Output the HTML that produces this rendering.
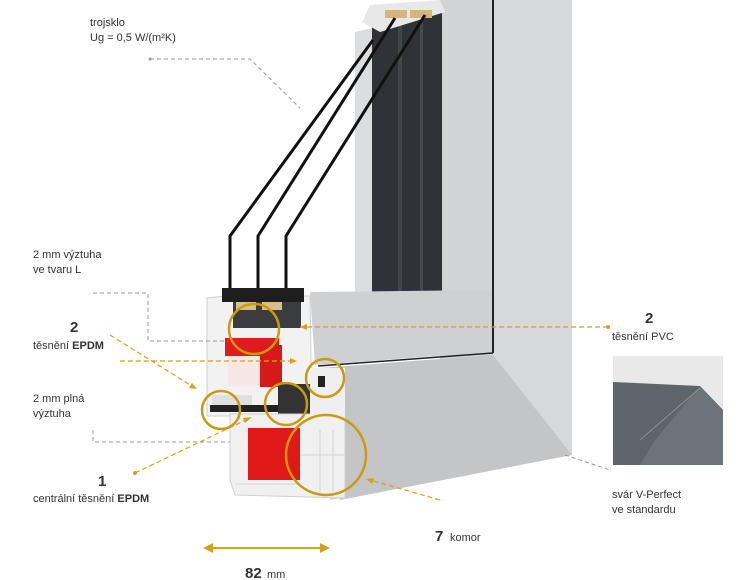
<!DOCTYPE html>
<html><head><meta charset="utf-8"><style>
html,body{margin:0;padding:0;background:#fff;width:755px;height:580px;overflow:hidden}
svg{display:block}
text{font-family:"Liberation Sans",sans-serif;font-size:11px;fill:#333}
.b{font-weight:bold}
</style></head><body>
<svg width="755" height="580" viewBox="0 0 755 580">
<!-- frame right part -->
<polygon points="440,0 572,0 572,455 330,500 320,368 440,360" fill="#d2d3d5"/>
<polygon points="493,0 572,0 572,455 493,355" fill="#d7d8da"/>
<polygon points="320,368 493,355 572,455 340,500" fill="#c4c5c7"/>
<!-- sash left strip -->
<polygon points="355,32 372,28 372,292 355,292" fill="#dcdddf"/>
<!-- dark glass area -->
<rect x="372" y="10" width="70" height="282" fill="#2f3337"/>
<rect x="398" y="10" width="4" height="282" fill="#41464a"/>
<rect x="420" y="10" width="3" height="282" fill="#454a4e"/>
<!-- sash face -->
<polygon points="310,292 493,290 493,352 315,365" fill="#cfd0d2"/>
<line x1="493" y1="0" x2="493" y2="353" stroke="#222" stroke-width="2"/>
<line x1="318" y1="366" x2="493" y2="353" stroke="#222" stroke-width="1.5"/>
<!-- top profile bits -->
<polygon points="362,22 370,5 440,0 445,12 380,32" fill="#e8e8e8"/>
<rect x="385" y="10" width="22" height="8" fill="#d6b676"/>
<rect x="410" y="10" width="22" height="8" fill="#d6b676"/>
<!-- glass panes -->
<g fill="none" stroke="#111" stroke-width="3">
<polyline points="230,292 230,236 373,40"/>
<polyline points="258,292 258,236 395,18"/>
<polyline points="286,292 286,236 425,15"/>
</g>
<!-- sash cross section -->
<polygon points="207,298 225,296 310,296 312,416 207,416" fill="#f2f2f2" stroke="#d0d0d0"/>
<rect x="222" y="288" width="82" height="14" fill="#1e1e1e"/>
<rect x="233" y="302" width="68" height="26" fill="#3a3c3e"/>
<rect x="236" y="302" width="20" height="8" fill="#d8bf8a"/>
<rect x="262" y="302" width="20" height="8" fill="#d8bf8a"/>
<rect x="225" y="338" width="54" height="18" fill="#e01b1b"/>
<rect x="260" y="345" width="22" height="42" fill="#d61a1a"/>
<rect x="228" y="356" width="32" height="30" fill="#f6e6e6"/>
<rect x="212" y="395" width="40" height="12" fill="#e0e0e0"/>
<rect x="210" y="405" width="85" height="7" fill="#222"/>
<rect x="278" y="384" width="34" height="30" fill="#333"/>
<!-- frame cross section -->
<polygon points="230,414 345,414 345,498 235,495 230,480" fill="#f0f0f0" stroke="#d0d0d0"/>
<rect x="310" y="368" width="35" height="50" fill="#efefef"/>
<rect x="318" y="376" width="7" height="11" fill="#222"/>
<rect x="248" y="428" width="52" height="52" fill="#e11818"/>
<g stroke="#d4d4d4"><line x1="320" y1="430" x2="320" y2="492"/><line x1="333" y1="430" x2="333" y2="492"/><line x1="300" y1="455" x2="345" y2="455"/><line x1="235" y1="484" x2="300" y2="484"/></g>
<!-- gold circles -->
<g fill="none" stroke="#c99a12" stroke-width="2.5">
<circle cx="254" cy="329" r="25"/>
<circle cx="325" cy="378" r="19"/>
<circle cx="221" cy="410" r="19"/>
<circle cx="286" cy="404" r="21"/>
<circle cx="326" cy="455" r="40"/>
</g>
<!-- grey leaders -->
<g fill="none" stroke="#999" stroke-width="1" stroke-dasharray="4,3">
<polyline points="150,59 250,59 300,108"/>
<polyline points="93,293 148,293 148,341 228,341"/>
<polyline points="93,430 93,442 230,442"/>
<polyline points="565,455 610,470"/>
</g>
<!-- gold leaders -->
<g fill="none" stroke="#d4a21a" stroke-width="1.2" stroke-dasharray="5,3">
<line x1="608" y1="327" x2="300" y2="327"/>
<line x1="120" y1="361" x2="295" y2="361"/>
<line x1="110" y1="335" x2="195" y2="388"/>
<line x1="135" y1="473" x2="250" y2="418"/>
<line x1="440" y1="500" x2="370" y2="480"/>
</g>
<g fill="#d4a21a">
<circle cx="150" cy="59" r="1.5" fill="#999"/>
<polygon points="300,327 307,324 307,330"/>
<polygon points="297,361 290,358 290,364"/>
<polygon points="197,389 189,388 192,383"/>
<polygon points="252,417 245,423 243,418"/>
<polygon points="366,479 374,478 372,484"/>
<circle cx="608" cy="327" r="2"/>
<circle cx="135" cy="473" r="2"/>
</g>
<!-- dimension arrow -->
<line x1="210" y1="548" x2="322" y2="548" stroke="#d4a21a" stroke-width="2"/>
<polygon points="203,548 213,543 213,553" fill="#d4a21a"/>
<polygon points="330,548 320,543 320,553" fill="#d4a21a"/>
<!-- inset image -->
<rect x="613" y="356" width="110" height="109" fill="#e9e9e9"/>
<polygon points="613,382 700,386 723,410 723,465 613,465" fill="#5d656a"/>
<polygon points="700,386 723,410 723,465 640,465 655,440" fill="#6c7479"/>
<line x1="700" y1="388" x2="640" y2="440" stroke="#8a9297" stroke-width="1"/>
<!-- labels -->
<text x="90" y="26">trojsklo</text>
<text x="90" y="41">Ug = 0,5 W/(m²K)</text>
<text x="33" y="258">2 mm výztuha</text>
<text x="33" y="273">ve tvaru L</text>
<text x="70" y="332" class="b" style="font-size:15px">2</text>
<text x="33" y="349">těsnění <tspan class="b">EPDM</tspan></text>
<text x="33" y="402">2 mm plná</text>
<text x="33" y="417">výztuha</text>
<text x="98" y="486" class="b" style="font-size:15px">1</text>
<text x="33" y="502">centrální těsnění <tspan class="b">EPDM</tspan></text>
<text x="645" y="323" class="b" style="font-size:15px">2</text>
<text x="612" y="340">těsnění PVC</text>
<text x="612" y="498">svár V-Perfect</text>
<text x="612" y="513">ve standardu</text>
<text x="435" y="541" class="b" style="font-size:15px">7</text>
<text x="450" y="541">komor</text>
<text x="245" y="578" class="b" style="font-size:15px">82</text>
<text x="267" y="578">mm</text>
</svg>
</body></html>
